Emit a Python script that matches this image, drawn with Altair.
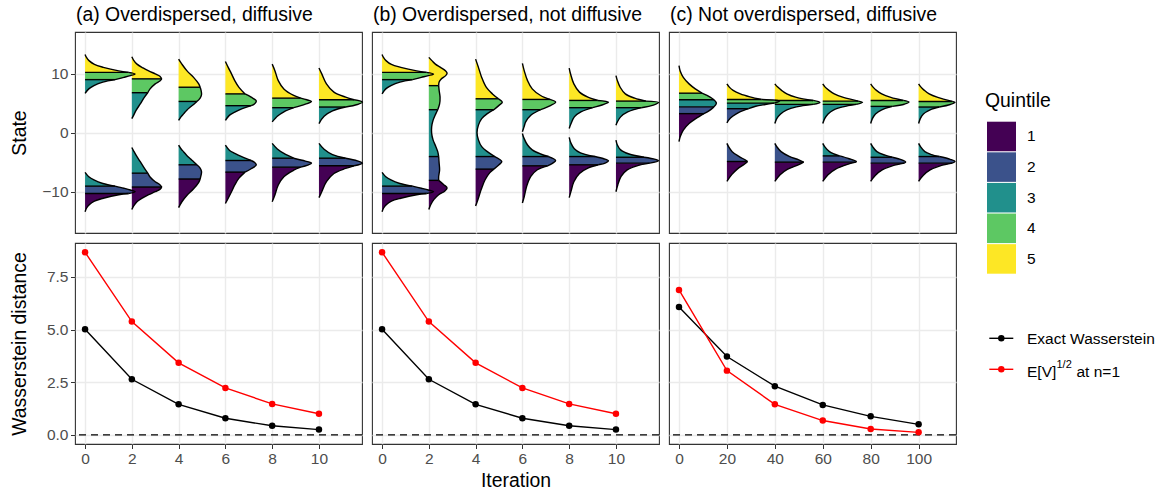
import altair as alt
import pandas as pd

FONT = "Liberation Sans"
VIRIDIS = ["#440154", "#3B528B", "#21908C", "#5DC863", "#FDE725"]
QUINTILES = [1, 2, 3, 4, 5]

# Density outlines of the chain state at each stored iteration.
# Each shape is a list of (quintile, [(state, half-width), ...]) read top to bottom;
# half-width is given as a fraction of the spacing between stored iterations.
A0_UP = [(5, [(13.3, 0.0), (12.8, 0.03), (12.2, 0.09), (11.6, 0.20), (11.1, 0.39), (10.5, 0.72), (10.25, 0.93)]),
         (4, [(10.25, 0.93), (9.97, 1.07), (9.7, 0.97), (9.4, 0.83), (9.02, 0.64)]),
         (3, [(9.02, 0.64), (8.6, 0.38), (8.0, 0.19), (7.45, 0.08), (6.7, 0.0)])]
A0_DN = [(3, [(-6.7, 0.0), (-7.45, 0.08), (-8.0, 0.19), (-8.6, 0.38), (-9.05, 0.64)]),
         (2, [(-9.05, 0.64), (-9.4, 0.83), (-9.7, 0.97), (-10.0, 1.07), (-10.3, 0.93)]),
         (1, [(-10.3, 0.93), (-10.5, 0.72), (-11.1, 0.39), (-11.6, 0.20), (-12.2, 0.09), (-12.8, 0.03), (-13.4, 0.0)])]
A2_UP = [(5, [(12.9, 0.0), (12.3, 0.04), (11.65, 0.11), (11.0, 0.24), (10.5, 0.36), (10.0, 0.50), (9.6, 0.60), (9.15, 0.64)]),
         (4, [(9.15, 0.64), (8.8, 0.60), (8.3, 0.50), (7.45, 0.39), (6.8, 0.34)]),
         (3, [(6.8, 0.34), (6.05, 0.27), (4.9, 0.18), (3.8, 0.09), (3.0, 0.04), (2.4, 0.0)])]
A2_DN = [(3, [(-2.5, 0.0), (-3.1, 0.04), (-3.8, 0.09), (-4.9, 0.18), (-6.05, 0.27), (-6.85, 0.34)]),
         (2, [(-6.85, 0.34), (-7.5, 0.39), (-8.3, 0.50), (-8.8, 0.60), (-9.2, 0.64)]),
         (1, [(-9.2, 0.64), (-9.6, 0.60), (-10.0, 0.50), (-10.5, 0.36), (-11.0, 0.24), (-11.7, 0.11), (-12.4, 0.04), (-13.0, 0.0)])]
A4_UP = [(5, [(12.5, 0.0), (11.65, 0.07), (10.5, 0.18), (9.4, 0.32), (8.3, 0.43), (7.73, 0.46)]),
         (4, [(7.73, 0.46), (7.2, 0.48), (6.5, 0.49), (5.9, 0.46), (5.32, 0.39)]),
         (3, [(5.32, 0.39), (4.8, 0.32), (4.37, 0.25), (3.8, 0.17), (3.25, 0.11), (2.7, 0.05), (2.1, 0.0)])]
A4_DN = [(3, [(-2.1, 0.0), (-2.7, 0.05), (-3.25, 0.11), (-3.8, 0.17), (-4.4, 0.25), (-4.9, 0.32), (-5.43, 0.39)]),
         (2, [(-5.43, 0.39), (-6.0, 0.46), (-6.6, 0.49), (-7.2, 0.48), (-7.84, 0.46)]),
         (1, [(-7.84, 0.46), (-8.4, 0.43), (-9.5, 0.32), (-10.6, 0.18), (-11.7, 0.07), (-12.7, 0.0)])]
A6_UP = [(5, [(12.1, 0.0), (11.1, 0.06), (10.0, 0.13), (8.85, 0.20), (7.7, 0.29), (6.6, 0.42)]),
         (4, [(6.6, 0.42), (6.05, 0.55), (5.4, 0.66), (4.9, 0.62), (4.6, 0.55)]),
         (3, [(4.6, 0.55), (4.1, 0.36), (3.5, 0.20), (3.0, 0.09), (2.1, 0.0)])]
A6_DN = [(3, [(-2.1, 0.0), (-3.0, 0.09), (-3.5, 0.20), (-4.1, 0.36), (-4.7, 0.55)]),
         (2, [(-4.7, 0.55), (-5.0, 0.62), (-5.45, 0.66), (-6.1, 0.55), (-6.67, 0.42)]),
         (1, [(-6.67, 0.42), (-7.7, 0.29), (-8.85, 0.20), (-10.0, 0.13), (-11.1, 0.06), (-12.0, 0.0)])]
A8_UP = [(5, [(11.65, 0.0), (10.5, 0.06), (8.85, 0.13), (7.45, 0.25), (6.35, 0.46), (5.88, 0.61)]),
         (4, [(5.88, 0.61), (5.6, 0.74), (5.3, 0.84), (4.85, 0.71), (4.26, 0.46)]),
         (3, [(4.26, 0.46), (3.55, 0.25), (2.8, 0.11), (1.85, 0.0)])]
A8_DN = [(3, [(-1.8, 0.0), (-2.75, 0.11), (-3.5, 0.25), (-4.31, 0.46)]),
         (2, [(-4.31, 0.46), (-4.8, 0.71), (-5.15, 0.84), (-5.5, 0.76), (-5.83, 0.61)]),
         (1, [(-5.83, 0.61), (-6.35, 0.46), (-7.45, 0.25), (-8.85, 0.13), (-10.5, 0.06), (-11.7, 0.0)])]
A10_UP = [(5, [(11.0, 0.0), (10.0, 0.06), (8.3, 0.16), (6.9, 0.32), (6.05, 0.57), (5.6, 0.75)]),
          (4, [(5.6, 0.75), (5.2, 0.93), (4.8, 0.82), (4.37, 0.57)]),
          (3, [(4.37, 0.57), (3.7, 0.29), (2.8, 0.11), (1.57, 0.0)])]
A10_DN = [(3, [(-1.8, 0.0), (-2.8, 0.11), (-3.7, 0.29), (-4.31, 0.57)]),
          (2, [(-4.31, 0.57), (-4.75, 0.82), (-5.15, 0.93), (-5.6, 0.75)]),
          (1, [(-5.6, 0.75), (-6.05, 0.57), (-6.9, 0.32), (-8.3, 0.16), (-10.0, 0.06), (-11.0, 0.0)])]

B0_UP = [(5, [(13.3, 0.0), (12.8, 0.03), (12.2, 0.09), (11.6, 0.20), (11.1, 0.40), (10.5, 0.74), (10.25, 0.95)]),
         (4, [(10.25, 0.95), (9.97, 1.10), (9.7, 0.99), (9.4, 0.84), (9.02, 0.65)]),
         (3, [(9.02, 0.65), (8.6, 0.38), (8.0, 0.19), (7.45, 0.08), (6.6, 0.0)])]
B0_DN = [(3, [(-6.7, 0.0), (-7.45, 0.08), (-8.0, 0.19), (-8.6, 0.38), (-9.05, 0.65)]),
         (2, [(-9.05, 0.65), (-9.4, 0.84), (-9.7, 0.99), (-10.0, 1.10), (-10.3, 0.95)]),
         (1, [(-10.3, 0.95), (-10.5, 0.74), (-11.1, 0.40), (-11.6, 0.20), (-12.2, 0.09), (-12.8, 0.03), (-13.4, 0.0)])]
B2_ALL = [(5, [(12.8, 0.0), (12.2, 0.07), (11.65, 0.14), (11.1, 0.25), (10.5, 0.36), (10.1, 0.39), (9.7, 0.36), (9.1, 0.26), (8.6, 0.22), (8.0, 0.21)]),
          (4, [(8.0, 0.21), (7.2, 0.22), (6.05, 0.24), (4.9, 0.23), (3.92, 0.19)]),
          (3, [(3.92, 0.19), (3.25, 0.15), (2.1, 0.09), (1.0, 0.06), (-0.1, 0.06), (-1.2, 0.09), (-2.35, 0.15), (-3.2, 0.19), (-4.03, 0.21)]),
          (2, [(-4.03, 0.21), (-5.15, 0.22), (-6.3, 0.23), (-7.4, 0.21), (-8.07, 0.21)]),
          (1, [(-8.07, 0.21), (-8.8, 0.32), (-9.36, 0.39), (-9.9, 0.34), (-10.5, 0.21), (-11.3, 0.11), (-12.2, 0.04), (-13.0, 0.0)])]
B4_ALL = [(5, [(12.5, 0.0), (11.1, 0.06), (9.4, 0.13), (7.7, 0.23), (6.6, 0.36), (5.77, 0.49)]),
          (4, [(5.77, 0.49), (5.2, 0.57), (4.65, 0.50), (3.92, 0.39)]),
          (3, [(3.92, 0.39), (3.25, 0.25), (2.4, 0.13), (1.3, 0.06), (0.0, 0.03), (-1.2, 0.06), (-2.35, 0.13), (-3.2, 0.25), (-4.03, 0.41)]),
          (2, [(-4.03, 0.41), (-4.87, 0.56), (-5.43, 0.50), (-6.16, 0.39)]),
          (1, [(-6.16, 0.39), (-6.8, 0.30), (-8.0, 0.20), (-9.6, 0.12), (-11.3, 0.05), (-12.4, 0.0)])]
B6_UP = [(5, [(11.77, 0.0), (10.5, 0.04), (8.85, 0.11), (7.45, 0.21), (6.33, 0.39), (5.66, 0.59)]),
         (4, [(5.66, 0.59), (5.2, 0.71), (4.65, 0.61), (3.92, 0.39)]),
         (3, [(3.92, 0.39), (2.97, 0.18), (1.85, 0.07), (1.0, 0.035), (0.17, 0.0)])]
B6_DN = [(3, [(-0.11, 0.0), (-0.95, 0.035), (-2.07, 0.11), (-2.9, 0.21), (-3.6, 0.39), (-4.03, 0.56)]),
         (2, [(-4.03, 0.56), (-4.7, 0.71), (-5.15, 0.65), (-5.6, 0.54)]),
         (1, [(-5.6, 0.54), (-6.27, 0.32), (-7.4, 0.18), (-9.1, 0.09), (-10.8, 0.04), (-11.9, 0.0)])]
B8_UP = [(5, [(10.98, 0.0), (9.97, 0.03), (8.3, 0.10), (6.9, 0.22), (6.05, 0.40), (5.49, 0.61)]),
         (4, [(5.49, 0.61), (5.2, 0.84), (4.82, 0.74), (4.26, 0.50)]),
         (3, [(4.26, 0.50), (3.53, 0.25), (2.7, 0.11), (1.57, 0.04), (0.73, 0.0)])]
B8_DN = [(3, [(-0.78, 0.0), (-1.8, 0.04), (-2.7, 0.11), (-3.4, 0.24), (-4.03, 0.55)]),
         (2, [(-4.03, 0.55), (-4.4, 0.74), (-4.75, 0.84), (-5.1, 0.78), (-5.43, 0.62)]),
         (1, [(-5.43, 0.62), (-6.0, 0.40), (-6.9, 0.22), (-8.3, 0.10), (-9.9, 0.04), (-11.0, 0.0)])]
B10_UP = [(5, [(9.69, 0.0), (8.85, 0.03), (7.73, 0.09), (6.6, 0.20), (5.88, 0.40), (5.38, 0.64)]),
          (4, [(5.38, 0.64), (5.16, 0.91), (4.7, 0.80), (4.26, 0.54)]),
          (3, [(4.26, 0.54), (3.53, 0.25), (2.7, 0.10), (1.85, 0.03), (1.29, 0.0)])]
B10_DN = [(3, [(-1.23, 0.0), (-2.07, 0.03), (-2.9, 0.10), (-3.6, 0.28), (-4.15, 0.60)]),
          (2, [(-4.15, 0.60), (-4.5, 0.84), (-4.75, 0.91), (-5.15, 0.72)]),
          (1, [(-5.15, 0.72), (-5.6, 0.45), (-6.3, 0.24), (-7.4, 0.11), (-8.8, 0.04), (-10.0, 0.0)])]

C0_ALL = [(5, [(11.4, 0.0), (10.5, 0.025), (9.4, 0.09), (8.3, 0.21), (7.45, 0.34), (6.72, 0.48)]),
          (4, [(6.72, 0.48), (6.05, 0.65), (5.6, 0.73)]),
          (3, [(5.6, 0.73), (5.0, 0.78), (4.4, 0.73)]),
          (2, [(4.4, 0.73), (3.8, 0.64), (3.25, 0.52)]),
          (1, [(3.25, 0.52), (2.4, 0.35), (1.57, 0.21), (0.45, 0.09), (-0.67, 0.025), (-1.5, 0.0)])]
C20_UP = [(5, [(8.3, 0.0), (7.75, 0.05), (7.2, 0.13), (6.6, 0.28), (6.1, 0.48), (5.66, 0.72)]),
          (4, [(5.66, 0.72), (5.4, 1.10), (5.04, 0.99)]),
          (3, [(5.04, 0.99), (4.8, 0.80), (4.5, 0.60), (4.09, 0.45)]),
          (2, [(4.09, 0.45), (3.5, 0.26), (2.8, 0.12), (2.2, 0.04), (1.68, 0.0)])]
C20_DN = [(2, [(-1.8, 0.0), (-2.35, 0.035), (-3.2, 0.11), (-4.0, 0.25), (-4.6, 0.38), (-4.87, 0.43)]),
          (1, [(-4.87, 0.43), (-5.3, 0.37), (-6.2, 0.21), (-7.1, 0.10), (-8.25, 0.0)])]
C40_UP = [(5, [(8.3, 0.0), (7.75, 0.06), (7.2, 0.14), (6.6, 0.25), (6.0, 0.45), (5.49, 0.80)]),
          (4, [(5.49, 0.80), (5.16, 0.94), (4.82, 0.80)]),
          (3, [(4.82, 0.80), (4.4, 0.45), (3.9, 0.25), (3.2, 0.12), (2.4, 0.04), (1.57, 0.0)])]
C40_DN = [(2, [(-1.8, 0.0), (-2.35, 0.04), (-3.2, 0.13), (-4.0, 0.30), (-4.6, 0.50), (-4.98, 0.60)]),
          (1, [(-4.98, 0.60), (-5.4, 0.50), (-6.2, 0.26), (-7.1, 0.11), (-8.25, 0.0)])]
C60_UP = [(5, [(8.3, 0.0), (7.75, 0.05), (7.2, 0.13), (6.6, 0.24), (6.0, 0.43), (5.38, 0.74)]),
          (4, [(5.38, 0.74), (5.16, 0.83), (4.82, 0.70)]),
          (3, [(4.82, 0.70), (4.4, 0.42), (3.9, 0.23), (3.2, 0.11), (2.4, 0.04), (1.57, 0.0)])]
C60_DN = [(3, [(-1.8, 0.0), (-2.35, 0.04), (-3.2, 0.14), (-3.92, 0.35)]),
          (2, [(-3.92, 0.35), (-4.4, 0.55), (-4.87, 0.70), (-4.98, 0.69)]),
          (1, [(-4.98, 0.69), (-5.4, 0.50), (-6.2, 0.26), (-7.1, 0.11), (-8.25, 0.0)])]
C80_UP = [(5, [(8.3, 0.0), (7.75, 0.05), (7.2, 0.12), (6.6, 0.23), (6.0, 0.42), (5.49, 0.68)]),
          (4, [(5.49, 0.68), (5.2, 0.80), (4.85, 0.70), (4.48, 0.45)]),
          (3, [(4.48, 0.45), (3.9, 0.23), (3.2, 0.10), (2.4, 0.035), (1.57, 0.0)])]
C80_DN = [(3, [(-1.8, 0.0), (-2.35, 0.04), (-3.2, 0.13), (-3.8, 0.30), (-4.15, 0.45)]),
          (2, [(-4.15, 0.45), (-4.6, 0.65), (-4.98, 0.73), (-5.15, 0.70)]),
          (1, [(-5.15, 0.70), (-5.6, 0.45), (-6.3, 0.24), (-7.2, 0.10), (-8.25, 0.0)])]
C100_UP = [(5, [(8.3, 0.0), (7.75, 0.05), (7.2, 0.12), (6.6, 0.22), (6.0, 0.40), (5.32, 0.70)]),
           (4, [(5.32, 0.70), (5.16, 0.76), (4.8, 0.66), (4.37, 0.43)]),
           (3, [(4.37, 0.43), (3.9, 0.24), (3.2, 0.10), (2.4, 0.035), (1.57, 0.0)])]
C100_DN = [(3, [(-1.8, 0.0), (-2.35, 0.04), (-3.2, 0.13), (-3.7, 0.27), (-4.03, 0.43)]),
           (2, [(-4.03, 0.43), (-4.5, 0.66), (-4.87, 0.76), (-5.15, 0.70)]),
           (1, [(-5.15, 0.70), (-5.6, 0.45), (-6.3, 0.24), (-7.2, 0.10), (-8.25, 0.0)])]

ITER_AB = [0, 2, 4, 6, 8, 10]
ITER_C = [0, 20, 40, 60, 80, 100]
SNAP_A = {0: [A0_UP, A0_DN], 2: [A2_UP, A2_DN], 4: [A4_UP, A4_DN],
          6: [A6_UP, A6_DN], 8: [A8_UP, A8_DN], 10: [A10_UP, A10_DN]}
SNAP_B = {0: [B0_UP, B0_DN], 2: [B2_ALL], 4: [B4_ALL],
          6: [B6_UP, B6_DN], 8: [B8_UP, B8_DN], 10: [B10_UP, B10_DN]}
SNAP_C = {0: [C0_ALL], 20: [C20_UP, C20_DN], 40: [C40_UP, C40_DN],
          60: [C60_UP, C60_DN], 80: [C80_UP, C80_DN], 100: [C100_UP, C100_DN]}

# Wasserstein distance to the target, per stored iteration
SERIES = ["Exact Wasserstein", "E[V]^1/2 at n=1"]
SERIES_COLORS = ["black", "red"]
EXACT_A = [5.01, 2.64, 1.45, 0.79, 0.43, 0.25]
BOUND_A = [8.67, 5.38, 3.42, 2.23, 1.47, 1.00]
EXACT_B = [5.01, 2.64, 1.45, 0.79, 0.43, 0.25]
BOUND_B = [8.67, 5.38, 3.42, 2.23, 1.47, 1.00]
EXACT_C = [6.07, 3.72, 2.31, 1.42, 0.88, 0.50]
BOUND_C = [6.88, 3.05, 1.45, 0.68, 0.28, 0.12]

TITLES = ["(a) Overdispersed, diffusive", "(b) Overdispersed, not diffusive",
          "(c) Not overdispersed, diffusive"]

PW, PH = 287, 201
LEG_W = 185
STATE_DOMAIN = [-17.0, 17.1]
DIST_DOMAIN = [-0.434, 9.11]
XDOM_AB = [-0.43, 11.84]
XDOM_C = [-4.17, 115.6]

TICK_COLOR = "#333333"
LABEL_COLOR = "#4D4D4D"
LABEL_SIZE = 15.5
TITLE_SIZE = 19.4

fill_scale = alt.Scale(domain=QUINTILES, range=VIRIDIS)


def shape_frames(snapshots, step):
    fills, cuts = [], []
    for t, shapes in snapshots.items():
        for vi, shape in enumerate(shapes):
            for si, (q, pts) in enumerate(shape):
                key = f"{t}-{vi}-{si}"
                for k, (s, w) in enumerate(pts):
                    fills.append({"key": key, "q": q, "state": s, "x": t + w * step, "x0": t, "k": k})
                if si > 0:
                    s, w = pts[0]
                    cuts.append({"state": s, "x": t + w * step, "x0": t})
    return pd.DataFrame(fills), pd.DataFrame(cuts)


def left_axis(values, title, fmt=None):
    kw = dict(values=values, grid=True, domain=False, ticks=True, tickSize=4.5,
              tickColor=TICK_COLOR, tickWidth=1, labelPadding=2.5, labelColor=LABEL_COLOR,
              labelFontSize=LABEL_SIZE, title=title, titleFontSize=TITLE_SIZE,
              titleFontWeight="normal", titleColor="black", titleX=-50, titleY=PH / 2,
              titleBaseline="alphabetic", titleAngle=270, labelFlush=False)
    if fmt:
        kw["format"] = fmt
    return alt.Axis(**kw)


def grid_axis(values):
    return alt.Axis(values=values, grid=True, labels=False, ticks=False, domain=False, title=None)


def state_panel(snapshots, step, xdom, xticks, title, first):
    fills, cuts = shape_frames(snapshots, step)
    xs = alt.Scale(domain=xdom, nice=False, zero=False)
    ys = alt.Scale(domain=STATE_DOMAIN, nice=False, zero=False)
    xa = grid_axis(xticks)
    ya = left_axis([-10, 0, 10], "State") if first else grid_axis([-10, 0, 10])
    base = alt.Chart(fills)
    area = base.mark_area(orient="horizontal", interpolate="catmull-rom").encode(
        y=alt.Y("state:Q", scale=ys, axis=ya),
        x=alt.X("x:Q", scale=xs, axis=xa, stack=None),
        x2="x0:Q",
        fill=alt.Fill("q:O", scale=fill_scale, legend=None),
        detail="key:N",
    )
    edge = base.mark_line(interpolate="catmull-rom", color="black", strokeWidth=1.4).encode(
        y=alt.Y("state:Q", scale=ys, axis=ya),
        x=alt.X("x:Q", scale=xs, axis=xa),
        detail="key:N",
        order="k:Q",
    )
    cut = alt.Chart(cuts).mark_rule(color="black", strokeWidth=1.4).encode(
        y=alt.Y("state:Q", scale=ys, axis=ya),
        x=alt.X("x0:Q", scale=xs, axis=xa),
        x2="x:Q",
    )
    return alt.layer(area, edge, cut).properties(
        width=PW, height=PH,
        title=alt.TitleParams(text=title, anchor="start", frame="group", fontSize=TITLE_SIZE,
                              fontWeight="normal", color="black", baseline="alphabetic",
                              offset=-8.5, dx=1),
    )


def distance_panel(iters, exact, bound, xdom, xticks, first, middle):
    df = pd.DataFrame({
        "iteration": iters + iters,
        "value": exact + bound,
        "series": [SERIES[0]] * len(iters) + [SERIES[1]] * len(iters),
    })
    xs = alt.Scale(domain=xdom, nice=False, zero=False)
    ys = alt.Scale(domain=DIST_DOMAIN, nice=False, zero=False)
    xa = alt.Axis(values=xticks, grid=True, domain=False, ticks=True, tickSize=4.5,
                  tickColor=TICK_COLOR, labelPadding=2.5, labelColor=LABEL_COLOR,
                  labelFontSize=LABEL_SIZE, labelFlush=False,
                  title="Iteration" if middle else None, titleFontSize=TITLE_SIZE,
                  titleFontWeight="normal", titleColor="black", titleY=42,
                  titleBaseline="alphabetic")
    ya = left_axis([0, 2.5, 5, 7.5], "Wasserstein distance", ".1f") if first else grid_axis([0, 2.5, 5, 7.5])
    cs = alt.Scale(domain=SERIES, range=SERIES_COLORS)
    zero = alt.Chart(pd.DataFrame({"level": [0.0]})).mark_rule(
        color="black", strokeDash=[7, 5], strokeWidth=1.4).encode(
        y=alt.Y("level:Q", scale=ys, axis=ya))
    enc = dict(
        x=alt.X("iteration:Q", scale=xs, axis=xa),
        y=alt.Y("value:Q", scale=ys, axis=ya),
        color=alt.Color("series:N", scale=cs, legend=None),
    )
    line = alt.Chart(df).mark_line(strokeWidth=1.4).encode(**enc)
    dots = alt.Chart(df).mark_circle(size=42, opacity=1).encode(**enc)
    return alt.layer(zero, line, dots).properties(width=PW, height=PH)


def text_layer(label, x, y, size, align="left", baseline="alphabetic"):
    return alt.Chart(pd.DataFrame({"t": [label]})).mark_text(
        align=align, baseline=baseline, fontSize=size, color="black").encode(
        text="t:N", x=alt.value(x), y=alt.value(y))


# Legend cell beside the state panels: quintile keys
key_scale = alt.Scale(domain=QUINTILES, range=[89.7, 241.7], paddingInner=0.035, paddingOuter=0)
qdf = pd.DataFrame({"q": QUINTILES})
quintile_legend = alt.layer(
    text_layer("Quintile", 19, 75, TITLE_SIZE),
    alt.Chart(qdf).mark_rect().encode(
        y=alt.Y("q:O", scale=key_scale, axis=None),
        x=alt.value(21), x2=alt.value(50),
        fill=alt.Fill("q:O", scale=fill_scale, legend=None)),
    alt.Chart(qdf).mark_text(align="left", baseline="middle", fontSize=LABEL_SIZE, color="black").encode(
        y=alt.Y("q:O", scale=key_scale, axis=None), x=alt.value(61), text="q:O"),
).properties(width=LEG_W, height=PH, view=alt.ViewBackground(stroke=None))

# Legend cell beside the distance panels: the two series
series_layers = []
for (ly, name, col) in zip([95.3, 126.3], SERIES, SERIES_COLORS):
    one = pd.DataFrame({"name": [name]})
    series_layers.append(alt.Chart(one).mark_rule(color=col, strokeWidth=1.4).encode(
        x=alt.value(23.3), x2=alt.value(47.3), y=alt.value(ly)))
    series_layers.append(alt.Chart(one).mark_circle(color=col, size=42, opacity=1).encode(
        x=alt.value(35.3), y=alt.value(ly)))
series_layers += [
    text_layer("Exact Wasserstein", 61, 101.3, LABEL_SIZE),
    text_layer("E[V]", 61, 133.5, LABEL_SIZE),
    text_layer("1/2", 90.5, 125.0, 11),
    text_layer("at n=1", 110.5, 133.5, LABEL_SIZE),
]
series_legend = alt.layer(*series_layers).properties(
    width=LEG_W, height=PH, view=alt.ViewBackground(stroke=None))

chart = alt.concat(
    state_panel(SNAP_A, 2, XDOM_AB, ITER_AB, TITLES[0], True),
    state_panel(SNAP_B, 2, XDOM_AB, ITER_AB, TITLES[1], False),
    state_panel(SNAP_C, 20, XDOM_C, ITER_C, TITLES[2], False),
    quintile_legend,
    distance_panel(ITER_AB, EXACT_A, BOUND_A, XDOM_AB, ITER_AB, True, False),
    distance_panel(ITER_AB, EXACT_B, BOUND_B, XDOM_AB, ITER_AB, False, True),
    distance_panel(ITER_C, EXACT_C, BOUND_C, XDOM_C, ITER_C, False, False),
    series_legend,
    columns=4, spacing=10, bounds="flush",
).properties(
    padding={"left": 8, "top": 4, "right": 2, "bottom": 2},
).configure(font=FONT).configure_view(
    stroke="#333333", strokeWidth=1.1,
).configure_axis(
    gridColor="#EBEBEB", gridWidth=1.4, labelFont=FONT, titleFont=FONT,
).configure_title(font=FONT)

chart.save("out.html", embed_options={"renderer": "svg", "actions": False})
